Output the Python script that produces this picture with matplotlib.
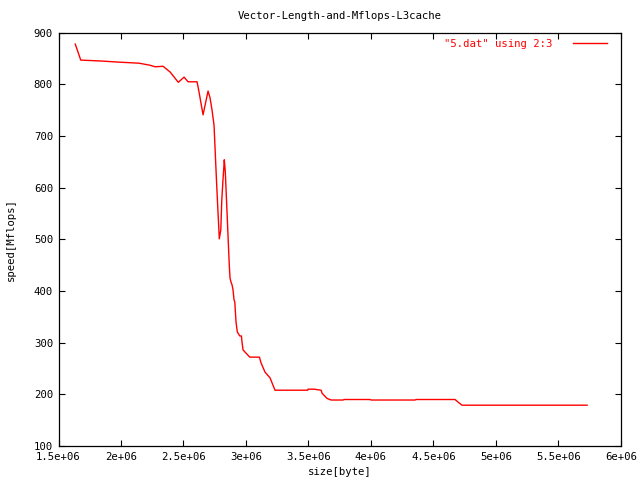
import numpy as np
import matplotlib
matplotlib.use("Agg")
import matplotlib.pyplot as plt

# size[byte] (column 2) and speed[Mflops] (column 3)
size = [1.634e6, 1.678e6, 1.856e6, 1.984e6, 2.144e6, 2.233e6, 2.273e6, 2.337e6,
        2.393e6, 2.459e6, 2.505e6, 2.537e6, 2.609e6, 2.625e6, 2.657e6, 2.697e6,
        2.713e6, 2.729e6, 2.745e6, 2.759e6, 2.767e6, 2.775e6, 2.783e6, 2.787e6,
        2.799e6, 2.807e6, 2.815e6, 2.823e6, 2.827e6, 2.835e6, 2.843e6, 2.851e6,
        2.859e6, 2.867e6, 2.873e6, 2.881e6, 2.889e6, 2.897e6, 2.905e6, 2.911e6,
        2.921e6, 2.931e6, 2.951e6, 2.964e6, 2.969e6, 2.977e6, 3.031e6, 3.108e6,
        3.121e6, 3.153e6, 3.193e6, 3.233e6, 3.495e6, 3.497e6, 3.546e6, 3.602e6,
        3.610e6, 3.650e6, 3.682e6, 3.778e6, 3.786e6, 3.994e6, 4.002e6, 4.354e6,
        4.362e6, 4.674e6, 4.698e6, 4.730e6, 5.731e6]
speed = [878, 847, 845, 843, 841, 837, 834, 835,
         824, 804, 814, 805, 805, 785, 741, 787,
         774, 750, 721, 644, 601, 561, 522, 501,
         518, 576, 609, 638, 654, 631, 586, 541,
         495, 450, 425, 417, 412, 402, 383, 379,
         340, 321, 313, 313, 301, 286, 272, 272,
         261, 243, 232, 208, 208, 210, 210, 208,
         202, 192, 189, 189, 190, 190, 189, 189,
         190, 190, 185, 179, 179]

xticks = [1.5e6, 2e6, 2.5e6, 3e6, 3.5e6, 4e6, 4.5e6, 5e6, 5.5e6, 6e6]
xticklabels = ["1.5e+06", "2e+06", "2.5e+06", "3e+06", "3.5e+06", "4e+06",
               "4.5e+06", "5e+06", "5.5e+06", "6e+06"]
yticks = [100, 200, 300, 400, 500, 600, 700, 800, 900]

mono = "DejaVu Sans Mono"
fs = 7.7

fig = plt.figure(figsize=(6.4, 4.8), dpi=100)
ax = fig.add_axes([58.5/640, 1-446/480, (620.7-58.5)/640, (446-32.7)/480])

ax.plot(size, speed, color="red", lw=1.0, label='"5.dat" using 2:3')
ax.set_xlim(1.5e6, 6e6)
ax.set_ylim(100, 900)
ax.set_xticks(xticks)
ax.set_xticklabels(xticklabels, fontfamily=mono, fontsize=fs)
ax.set_yticks(yticks)
ax.set_yticklabels([str(v) for v in yticks], fontfamily=mono, fontsize=fs)
ax.tick_params(direction="in", length=4, width=0.8, top=True, right=True, pad=4)
for s in ax.spines.values():
    s.set_linewidth(0.9)

ax.set_xlabel("size[byte]", fontfamily=mono, fontsize=fs, labelpad=4)
ax.set_ylabel("speed[Mflops]", fontfamily=mono, fontsize=fs, labelpad=13)
ax.set_title("Vector-Length-and-Mflops-L3cache", fontfamily=mono, fontsize=fs, pad=10)

leg = ax.legend(loc="upper right", bbox_to_anchor=(0.9875, 1.0), frameon=False,
                prop={"family": mono, "size": fs}, markerfirst=False,
                handlelength=3.2, borderaxespad=0.2, handletextpad=1.9)
for t in leg.get_texts():
    t.set_color("red")

fig.savefig("out.png", dpi=100)
